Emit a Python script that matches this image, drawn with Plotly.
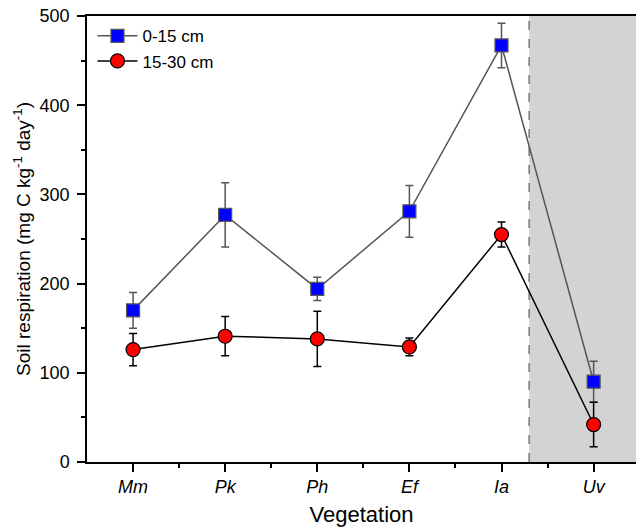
import plotly.graph_objects as go

categories = ["Mm", "Pk", "Ph", "Ef", "Ia", "Uv"]
top_vals = [170, 277, 194, 281, 467, 90]
top_err = [20, 36, 13, 29, 25, 23]
deep_vals = [126, 141, 138, 129, 255, 42]
deep_err = [18, 22, 31, 10, 14, 25]
y_ticks = [0, 100, 200, 300, 400, 500]

x = list(range(1, len(categories) + 1))

fig = go.Figure()
fig.add_trace(go.Scatter(
    x=x, y=top_vals, name="0-15 cm", mode="lines+markers",
    line=dict(color="#555555", width=1.5),
    marker=dict(symbol="square", size=13, color="#0000ff",
                line=dict(color="#555555", width=1.2)),
    error_y=dict(type="data", array=top_err, color="#555555", thickness=1.5, width=4),
))
fig.add_trace(go.Scatter(
    x=x, y=deep_vals, name="15-30 cm", mode="lines+markers",
    line=dict(color="#000000", width=1.5),
    marker=dict(symbol="circle", size=14, color="#ff0000",
                line=dict(color="#000000", width=1.2)),
    error_y=dict(type="data", array=deep_err, color="#000000", thickness=1.5, width=4),
))

fig.add_shape(type="rect", xref="x", yref="paper", x0=5.3, x1=6.46, y0=0, y1=1,
              fillcolor="#d3d3d3", line=dict(width=0), layer="below")
fig.add_shape(type="line", xref="x", yref="paper", x0=5.3, x1=5.3, y0=0, y1=1,
              line=dict(color="#777777", width=1.5, dash="dash"), layer="below")

fig.update_layout(
    width=636, height=532,
    margin=dict(l=87, r=0, t=16, b=70),
    plot_bgcolor="white", paper_bgcolor="white",
    font=dict(family="Liberation Sans, Arial", size=15, color="black"),
    showlegend=True,
    legend=dict(x=0.01, y=0.995, xanchor="left", yanchor="top",
                bgcolor="rgba(0,0,0,0)", font=dict(size=17),
                itemwidth=40, tracegroupgap=4),
)
fig.update_xaxes(
    range=[0.5, 6.46], tickmode="array", tickvals=x,
    ticktext=[f"<i>{c}</i>" for c in categories],
    showgrid=False, zeroline=False, showline=True, linecolor="black", linewidth=1.5,
    mirror=True, ticks="outside", ticklen=8, tickwidth=1.5, tickcolor="black",
    minor=dict(tickvals=[1.5, 2.5, 3.5, 4.5, 5.5], ticks="outside", ticklen=4,
               tickwidth=1.5, tickcolor="black"),
    title=dict(text="Vegetation", font=dict(size=22), standoff=10),
    tickfont=dict(size=18),
)
fig.update_yaxes(
    range=[0, 500], tickvals=y_ticks,
    showgrid=False, zeroline=False, showline=True, linecolor="black", linewidth=1.5,
    ticks="outside", ticklen=8, tickwidth=1.5, tickcolor="black",
    minor=dict(dtick=50, ticks="outside", ticklen=4, tickwidth=1.5, tickcolor="black"),
    ticklabelstandoff=4,
    title=dict(text="Soil respiration (mg C kg<sup>-1</sup> day<sup>-1</sup>)",
               font=dict(size=19), standoff=4),
    tickfont=dict(size=18),
)

fig.write_html("out.html")
